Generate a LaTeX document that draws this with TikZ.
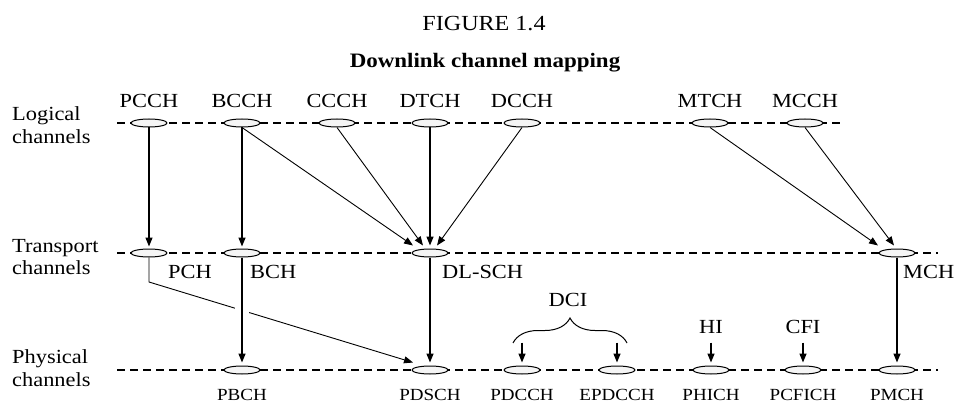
\documentclass[tikz,border=0pt]{standalone}
\usepackage{fontspec}
\setmainfont{Liberation Serif}[FakeStretch=1.12]
\usetikzlibrary{arrows.meta,shapes.geometric,decorations.pathreplacing}
\begin{document}
\begin{tikzpicture}[x=1pt,y=-1pt,
  ch/.style={draw, ellipse, fill=gray!8, minimum width=36pt, minimum height=8pt, inner sep=0pt, line width=1pt},
  chanline/.style={dashed, dash pattern=on 8pt off 5pt, line width=1.1pt},
  big/.style={font=\fontsize{20}{24}\selectfont, inner sep=0pt},
  small/.style={font=\fontsize{17}{20}\selectfont, inner sep=0pt},
  varr/.style={-{Triangle[length=9pt,width=7pt]}, line width=1.4pt},
  darr/.style={-{Triangle[length=9pt,width=7pt]}, line width=0.9pt}
]
\useasboundingbox (0,0) rectangle (957,403);
% title
\node[font=\fontsize{21.5}{24}\selectfont, inner sep=0pt, anchor=base] (fig) at (484,31) {FIGURE 1.4};
\node[font=\fontsize{20.5}{24}\selectfont\bfseries, inner sep=0pt, anchor=base] (sub) at (485,68) {Downlink channel mapping};
% level lines
\draw[chanline] (117,123) -- (842,123);
\draw[chanline] (117,253) -- (938,253);
\draw[chanline] (117,370) -- (938,370);
% row labels
\node[big, anchor=base west] (lg1) at (12,121) {Logical};
\node[big, anchor=base west] (lg2) at (12,144) {channels};
\node[big, anchor=base west] (tr1) at (12,252) {Transport};
\node[big, anchor=base west] (tr2) at (12,274) {channels};
\node[big, anchor=base west] (ph1) at (12,363) {Physical};
\node[big, anchor=base west] (ph2) at (12,386) {channels};
% logical channels
\node[ch] (pcch) at (149,123) {};
\node[ch] (bcch) at (242,123) {};
\node[ch] (ccch) at (337,123) {};
\node[ch] (dtch) at (430,123) {};
\node[ch] (dcch) at (522,123) {};
\node[ch] (mtch) at (710,123) {};
\node[ch] (mcch) at (805,123) {};
\node[big, anchor=base] (lpcch) at (149,108) {PCCH};
\node[big, anchor=base] (lbcch) at (242,108) {BCCH};
\node[big, anchor=base] (lccch) at (337,108) {CCCH};
\node[big, anchor=base] (ldtch) at (430,108) {DTCH};
\node[big, anchor=base] (ldcch) at (522,108) {DCCH};
\node[big, anchor=base] (lmtch) at (710,108) {MTCH};
\node[big, anchor=base] (lmcch) at (805,108) {MCCH};
% transport channels
\node[ch] (pch) at (149,253) {};
\node[ch] (bch) at (242,253) {};
\node[ch] (dlsch) at (430,253) {};
\node[ch] (mch) at (897,253) {};
\node[big, anchor=base west] (lpch) at (168,278) {PCH};
\node[big, anchor=base west] (lbch) at (250,278) {BCH};
\node[big, anchor=base west] (ldlsch) at (442,278) {DL-SCH};
\node[big, anchor=base west] (lmch) at (903,278) {MCH};
% physical channels
\node[ch] (pbch) at (242,370) {};
\node[ch] (pdsch) at (430,370) {};
\node[ch] (pdcch) at (522,370) {};
\node[ch] (epdcch) at (617,370) {};
\node[ch] (phich) at (711,370) {};
\node[ch] (pcfich) at (803,370) {};
\node[ch] (pmch) at (897,370) {};
\node[small, anchor=base] (lpbch) at (242,400) {PBCH};
\node[small, anchor=base] (lpdsch) at (430,400) {PDSCH};
\node[small, anchor=base] (lpdcch) at (522,400) {PDCCH};
\node[small, anchor=base] (lepdcch) at (617,400) {EPDCCH};
\node[small, anchor=base] (lphich) at (711,400) {PHICH};
\node[small, anchor=base] (lpcfich) at (803,400) {PCFICH};
\node[small, anchor=base] (lpmch) at (897,400) {PMCH};
% control info
\node[big, anchor=base] (dci) at (568,306) {DCI};
\node[big, anchor=base] (hi) at (711,333) {HI};
\node[big, anchor=base] (cfi) at (803,333) {CFI};
\coordinate (bl) at (513,343);
\coordinate (br) at (627,343);
\draw[decorate, decoration={brace, amplitude=25pt}, line width=1pt] (bl) -- (br);
% logical -> transport
\draw[varr, shorten >=2pt] (pcch.south) -- (pch.north);
\draw[varr, shorten >=2pt] (bcch.south) -- (bch.north);
\draw[darr] (bcch.south) -- ([xshift=-17pt,yshift=3pt]dlsch.north);
\draw[darr] (ccch.south) -- ([xshift=-7pt,yshift=3pt]dlsch.north);
\draw[varr, shorten >=3pt] (dtch.south) -- (dlsch.north);
\draw[darr] (dcch.south) -- ([xshift=7pt,yshift=3pt]dlsch.north);
\draw[darr] (mtch.south) -- ([xshift=-19pt,yshift=3pt]mch.north);
\draw[darr] (mcch.south) -- ([xshift=-3pt,yshift=3pt]mch.north);
% transport -> physical
\coordinate (pchbend) at (149,282);
\draw[darr] (pch.south) -- (pchbend) -- ([xshift=-17pt,yshift=3pt]pdsch.north);
\draw[varr, shorten >=3pt, preaction={draw, white, line width=14pt, shorten <=40pt, shorten >=40pt, -}] (bch.south) -- (pbch.north);
\draw[varr, shorten >=3pt] (dlsch.south) -- (pdsch.north);
\draw[varr, shorten >=3pt] (mch.south) -- (pmch.north);
% control -> physical
\draw[varr, shorten >=3pt] ([yshift=23pt]pdcch.north) -- (pdcch.north);
\draw[varr, shorten >=3pt] ([yshift=23pt]epdcch.north) -- (epdcch.north);
\draw[varr, shorten >=3pt] ([yshift=23pt]phich.north) -- (phich.north);
\draw[varr, shorten >=3pt] ([yshift=23pt]pcfich.north) -- (pcfich.north);
\end{tikzpicture}
\end{document}
